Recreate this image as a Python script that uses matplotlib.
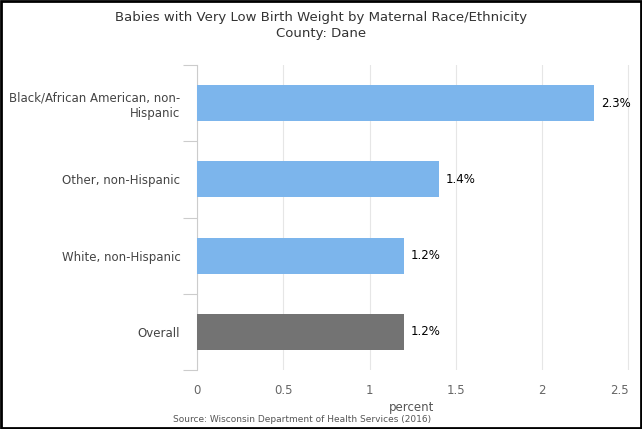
import matplotlib.pyplot as plt
import matplotlib.patches as patches

categories = ['Black/African American, non-\nHispanic', 'Other, non-Hispanic',
              'White, non-Hispanic', 'Overall']
values = [2.3, 1.4, 1.2, 1.2]
bar_colors = ['#7cb5ec', '#7cb5ec', '#7cb5ec', '#737373']
xticks = [0, 0.5, 1, 1.5, 2, 2.5]
xtick_labels = ['0', '0.5', '1', '1.5', '2', '2.5']

fig = plt.figure(figsize=(6.42, 4.29), dpi=100)
ax = fig.add_axes([197 / 642, 1 - 370 / 429, (630 - 197) / 642, (370 - 65) / 429])

y = list(range(len(categories)))
ax.barh(y, values, height=0.47, color=bar_colors, zorder=3)
for yi, v in zip(y, values):
    ax.text(v + 0.04, yi, f'{v:.1f}%', va='center', ha='left', fontsize=8.5, color='black')

ax.set_xlim(0, 2.51)
ax.set_ylim(len(categories) - 0.5, -0.5)
ax.set_yticks(y)
ax.set_yticklabels(categories, fontsize=8.5, color='#444444', ha='right')
ax.set_yticks([i - 0.5 for i in range(len(categories) + 1)], minor=True)
ax.tick_params(axis='y', which='major', length=0, pad=12)
ax.tick_params(axis='y', which='minor', length=10, color='#cccccc', width=0.8)
for lbl in ax.get_yticklabels():
    lbl.set_multialignment('right')

ax.set_xticks(xticks)
ax.set_xticklabels(xtick_labels, fontsize=8.5, color='#666666')
ax.get_xticklabels()[-1].set_horizontalalignment('right')
ax.tick_params(axis='x', length=0, pad=10)
ax.grid(axis='x', color='#e6e6e6', linewidth=0.8, zorder=0)

for side in ['top', 'right', 'bottom']:
    ax.spines[side].set_visible(False)
ax.spines['left'].set_color('#cccccc')
ax.spines['left'].set_linewidth(0.8)

fig.text(412 / 642, 1 - 407 / 429, 'percent', ha='center', va='center', fontsize=8.5, color='#555555')
fig.text(302 / 642, 1 - 420 / 429, 'Source: Wisconsin Department of Health Services (2016)',
         ha='center', va='center', fontsize=6.5, color='#555555')
fig.text(0.5, 1 - 18 / 429, 'Babies with Very Low Birth Weight by Maternal Race/Ethnicity',
         ha='center', va='center', fontsize=9.5, color='#333333')
fig.text(0.5, 1 - 34 / 429, 'County: Dane', ha='center', va='center', fontsize=9.5, color='#333333')

fig.patches.append(patches.Rectangle((0.002, 0.003), 0.996, 0.994, transform=fig.transFigure,
                                     fill=False, edgecolor='black', linewidth=2))

fig.savefig('out.png', dpi=100)
